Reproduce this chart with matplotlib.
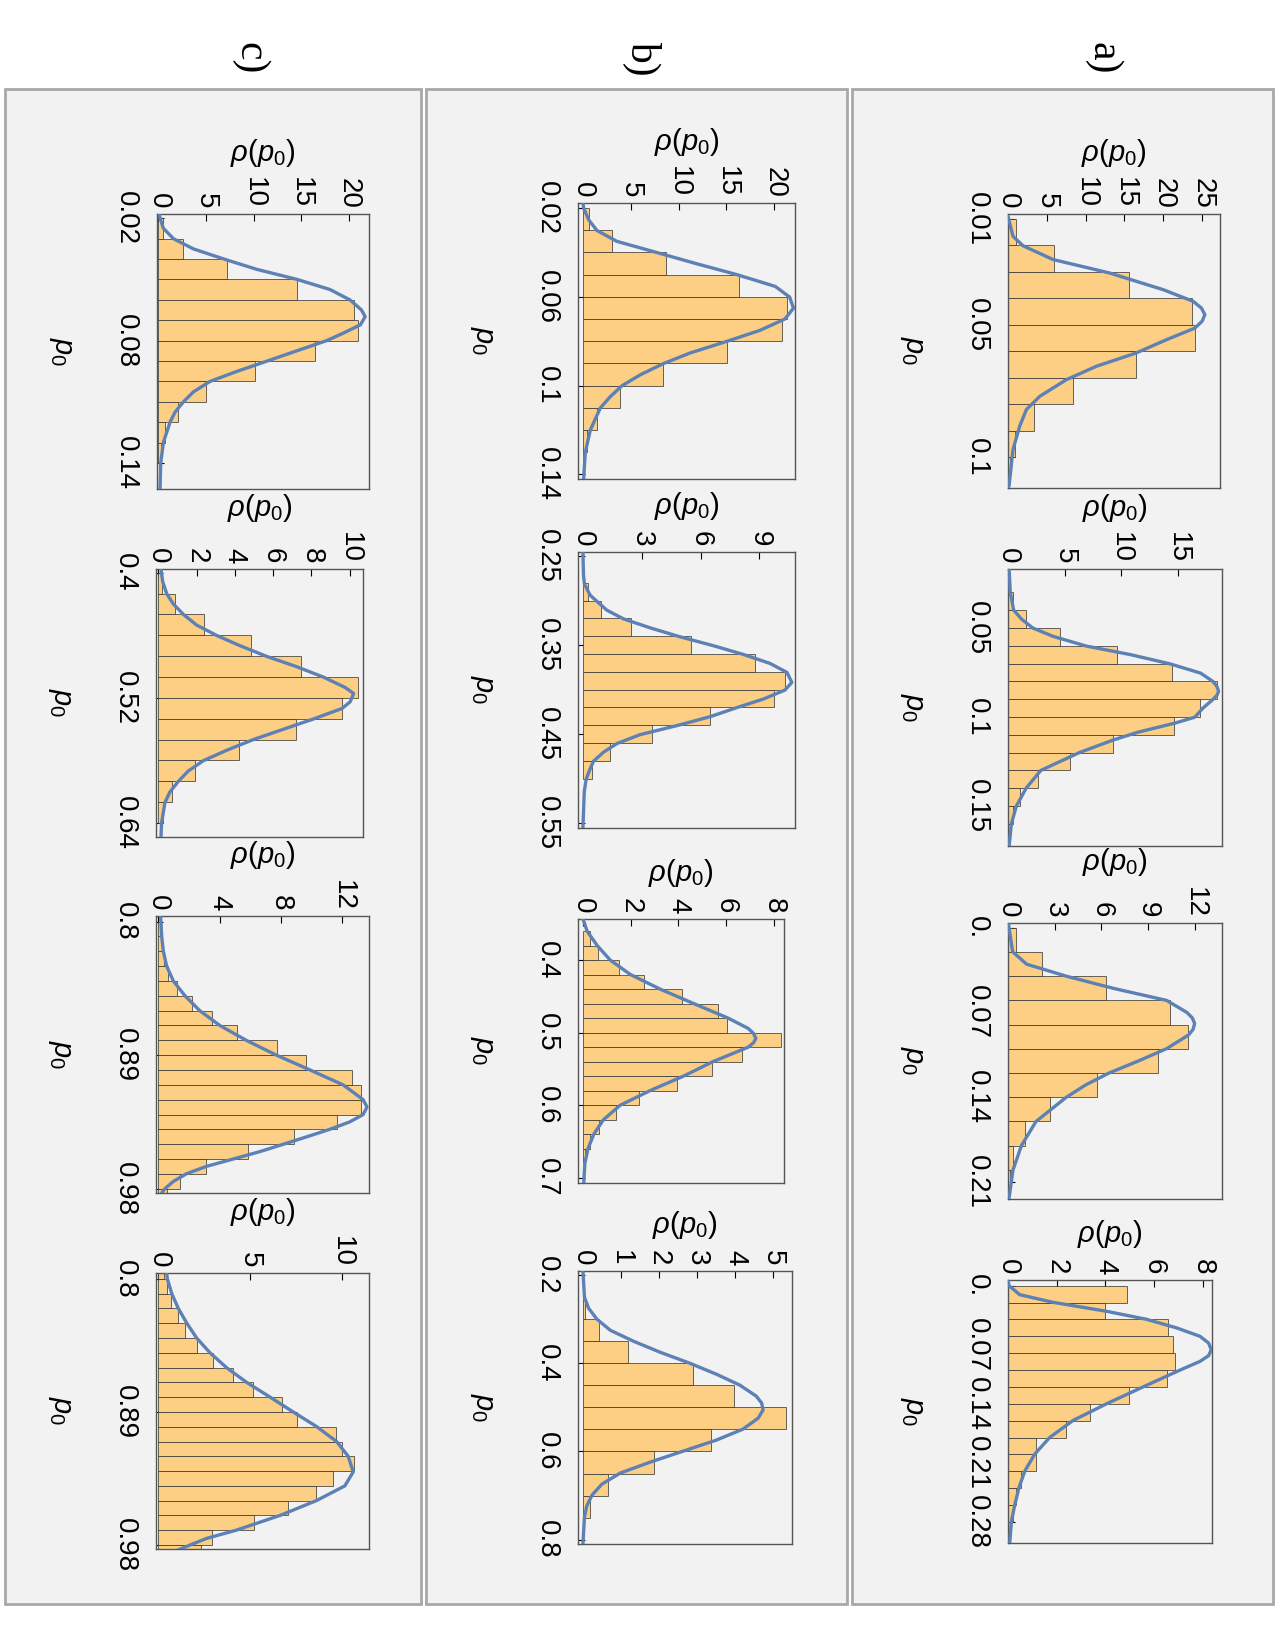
import numpy as np
import matplotlib
matplotlib.use('Agg')
import matplotlib.pyplot as plt
from matplotlib.patches import Rectangle

plt.rcParams['font.family'] = ['Liberation Sans', 'DejaVu Sans']
plt.rcParams['mathtext.fontset'] = 'custom'
plt.rcParams['mathtext.it'] = 'Liberation Sans:italic'
plt.rcParams['mathtext.rm'] = 'Liberation Sans'

# ---------------- data ----------------
# each panel: histogram (first bin edge, bin width, densities) and fitted curve (p0, rho)

# row a)
a1_start, a1_width = 0.01, 0.01
a1_hist = [1.0, 5.9, 15.6, 23.7, 24.1, 16.5, 8.4, 3.3, 0.9, 0.2]
a1_curve_p = [0.0091, 0.0166, 0.0202, 0.0254, 0.0305, 0.0368, 0.0412, 0.0437, 0.0462, 0.0487,
              0.0513, 0.0557, 0.0607, 0.0657, 0.0708, 0.0771, 0.0821, 0.0884, 0.0972, 0.1111]
a1_curve_rho = [0.0, 0.64, 1.93, 5.8, 13.1, 20.0, 23.85, 24.9, 25.35, 25.0,
                24.06, 20.4, 16.5, 11.4, 7.5, 4.08, 2.36, 1.5, 0.64, 0.13]
a1_rticks = [0, 5, 10, 15, 20, 25]
a1_pticks = [0.01, 0.05, 0.1]
a1_plabels = ['0.01', '0.05', '0.1']

a2_start, a2_width = 0.03, 0.01
a2_hist = [0.44, 1.56, 4.63, 9.6, 14.5, 18.5, 17.0, 14.7, 9.3, 5.5, 2.65, 1.03, 0.44, 0.2]
a2_curve_p = [0.0168, 0.0299, 0.0399, 0.045, 0.05, 0.0547, 0.0601, 0.0649, 0.0701, 0.0753, 0.08,
              0.0828, 0.0856, 0.0878, 0.0901, 0.0951, 0.1001, 0.1035, 0.1085, 0.1129, 0.12,
              0.13, 0.14, 0.15, 0.16, 0.1725]
a2_curve_rho = [0.1, 0.2, 0.5, 1.2, 2.2, 4.0, 6.9, 10.8, 14.3, 17.0, 18.1,
                18.45, 18.6, 18.45, 18.1, 17.2, 16.5, 14.7, 11.5, 9.3, 6.3,
                2.9, 1.6, 0.74, 0.3, 0.1]
a2_rticks = [0, 5, 10, 15]
a2_pticks = [0.05, 0.1, 0.15]
a2_plabels = ['0.05', '0.1', '0.15']

a3_start, a3_width = 0.0, 0.02
a3_hist = [0.49, 2.19, 6.32, 10.44, 11.57, 9.64, 5.74, 2.72, 1.09, 0.32, 0.1]
a3_curve_p = [-0.0038, 0.0, 0.02, 0.0302, 0.0401, 0.0502, 0.0601, 0.07, 0.0745, 0.0791, 0.084,
              0.0887, 0.0999, 0.11, 0.12, 0.1298, 0.14, 0.16, 0.18, 0.2001, 0.224]
a3_curve_rho = [0.04, 0.06, 0.3, 1.2, 3.75, 6.8, 10.2, 11.5, 11.85, 12.0, 11.9,
                11.6, 10.2, 8.4, 6.5, 5.0, 3.75, 1.8, 0.86, 0.32, 0.06]
a3_rticks = [0, 3, 6, 9, 12]
a3_pticks = [0.0, 0.07, 0.14, 0.21]
a3_plabels = ['0.', '0.07', '0.14', '0.21']

a4_start, a4_width = 0.0, 0.02
a4_hist = [4.88, 4.0, 6.56, 6.78, 6.86, 6.53, 4.99, 3.38, 2.37, 1.17, 1.14, 0.54, 0.33, 0.19, 0.1]
a4_curve_p = [-0.0067, 0.0, 0.0107, 0.0198, 0.0304, 0.0399, 0.0502, 0.0601, 0.068, 0.0759, 0.083,
              0.0897, 0.1, 0.1198, 0.1399, 0.1597, 0.1798, 0.1996, 0.2198, 0.2395, 0.2597,
              0.2794, 0.3051]
a4_curve_rho = [0.0, 0.04, 0.48, 1.86, 4.06, 5.7, 6.95, 7.9, 8.25, 8.36, 8.25,
                7.9, 7.08, 5.57, 4.06, 2.68, 1.72, 1.1, 0.69, 0.45, 0.28,
                0.14, 0.07]
a4_rticks = [0, 2, 4, 6, 8]
a4_pticks = [0.0, 0.07, 0.14, 0.21, 0.28]
a4_plabels = ['0.', '0.07', '0.14', '0.21', '0.28']

# row b)
b1_start, b1_width = 0.02, 0.01
b1_hist = [0.59, 3.03, 8.66, 16.35, 21.36, 20.83, 15.03, 8.35, 3.83, 1.46, 0.42, 0.14]
b1_curve_p = [0.0177, 0.02, 0.0253, 0.0301, 0.035, 0.04, 0.0451, 0.05, 0.0553, 0.0601, 0.0651,
              0.07, 0.0751, 0.0801, 0.0853, 0.0901, 0.0951, 0.1001, 0.105, 0.1101, 0.12,
              0.1301, 0.1421]
b1_curve_rho = [0.0, 0.07, 0.6, 1.46, 3.55, 7.7, 11.9, 16.1, 20.1, 21.6, 22.0,
                21.1, 18.5, 15.0, 11.2, 8.4, 6.0, 4.07, 2.85, 1.81, 0.77,
                0.24, 0.07]
b1_rticks = [0, 5, 10, 15, 20]
b1_pticks = [0.02, 0.06, 0.1, 0.14]
b1_plabels = ['0.02', '0.06', '0.1', '0.14']

b2_start, b2_width = 0.28, 0.02
b2_hist = [0.24, 0.92, 2.46, 5.52, 8.79, 10.3, 9.76, 6.47, 3.51, 1.39, 0.46]
b2_curve_p = [0.2453, 0.2715, 0.2816, 0.2939, 0.3007, 0.3107, 0.3205, 0.3306, 0.3407, 0.3507,
              0.3605, 0.3706, 0.3807, 0.3919, 0.4005, 0.4106, 0.4203, 0.4304, 0.4405, 0.4506,
              0.4607, 0.4704, 0.4805, 0.4906, 0.5003, 0.5145, 0.5556]
b2_curve_rho = [0.0, 0.03, 0.08, 0.37, 0.71, 1.22, 2.07, 3.43, 4.96, 6.66,
                8.18, 9.54, 10.4, 10.65, 10.3, 9.2, 7.84, 6.49, 4.79, 2.92,
                1.73, 1.05, 0.54, 0.34, 0.17, 0.07, 0.0]
b2_rticks = [0, 3, 6, 9]
b2_pticks = [0.25, 0.35, 0.45, 0.55]
b2_plabels = ['0.25', '0.35', '0.45', '0.55']

b3_start, b3_width = 0.36, 0.02
b3_hist = [0.28, 0.63, 1.49, 2.54, 4.14, 5.67, 6.02, 8.32, 6.65, 5.39, 3.93, 2.33, 1.39, 0.66,
           0.28, 0.1]
b3_curve_p = [0.3434, 0.36, 0.3798, 0.4, 0.4198, 0.44, 0.4598, 0.4801, 0.4943, 0.5012, 0.5081,
              0.5141, 0.5201, 0.5399, 0.5601, 0.5799, 0.6002, 0.62, 0.6402, 0.66, 0.6798, 0.7074]
b3_curve_rho = [0.0, 0.17, 0.59, 1.14, 1.98, 3.23, 4.63, 6.09, 6.93, 7.15, 7.25,
                7.15, 6.93, 5.46, 4.21, 2.82, 1.56, 0.86, 0.45, 0.21, 0.08, 0.03]
b3_rticks = [0, 2, 4, 6, 8]
b3_pticks = [0.4, 0.5, 0.6, 0.7]
b3_plabels = ['0.4', '0.5', '0.6', '0.7']

b4_start, b4_width = 0.25, 0.05
b4_hist = [0.06, 0.41, 1.18, 2.9, 3.98, 5.35, 3.37, 1.87, 0.65, 0.19]
b4_curve_p = [0.191, 0.2506, 0.2755, 0.3004, 0.3253, 0.3502, 0.3751, 0.4, 0.4249, 0.4498, 0.4747,
              0.49, 0.5057, 0.5245, 0.5494, 0.5743, 0.5992, 0.6242, 0.6491, 0.674, 0.6989,
              0.7238, 0.7487, 0.8098]
b4_curve_rho = [0.0, 0.04, 0.15, 0.37, 0.72, 1.33, 2.03, 2.81, 3.51, 4.13, 4.56,
                4.7, 4.74, 4.61, 4.21, 3.51, 2.64, 1.77, 0.98, 0.5, 0.24,
                0.1, 0.04, 0.0]
b4_rticks = [0, 1, 2, 3, 4, 5]
b4_pticks = [0.2, 0.4, 0.6, 0.8]
b4_plabels = ['0.2', '0.4', '0.6', '0.8']

# row c)
c1_start, c1_width = 0.02, 0.01
c1_hist = [0.52, 2.55, 7.24, 14.58, 20.52, 20.98, 16.43, 10.14, 5.0, 2.03, 0.7, 0.31]
c1_curve_p = [0.0179, 0.02, 0.0249, 0.03, 0.035, 0.0399, 0.045, 0.0499, 0.0549, 0.06, 0.0649,
              0.0682, 0.0722, 0.0763, 0.0799, 0.085, 0.09, 0.0951, 0.1, 0.1051, 0.11, 0.115,
              0.1199, 0.1299, 0.14, 0.1527]
c1_curve_rho = [0.1, 0.17, 0.52, 1.57, 3.67, 6.82, 10.3, 14.5, 18.0, 20.1, 21.3,
                21.7, 21.2, 19.4, 17.7, 14.5, 11.4, 8.2, 5.4, 3.67, 2.62, 1.75,
                1.22, 0.52, 0.24, 0.17]
c1_rticks = [0, 5, 10, 15, 20]
c1_pticks = [0.02, 0.08, 0.14]
c1_plabels = ['0.02', '0.08', '0.14']

c2_start, c2_width = 0.40, 0.02
c2_hist = [0.17, 0.89, 2.37, 4.85, 7.47, 10.42, 9.58, 7.21, 4.24, 1.94, 0.7, 0.23]
c2_curve_p = [0.3965, 0.4086, 0.4202, 0.4301, 0.44, 0.4502, 0.4602, 0.4701, 0.4803, 0.4902,
              0.5002, 0.5101, 0.5158, 0.5238, 0.5302, 0.5402, 0.5501, 0.56, 0.5702, 0.5802,
              0.5901, 0.6, 0.6102, 0.6202, 0.64, 0.6534]
c2_curve_rho = [0.14, 0.23, 0.44, 0.79, 1.31, 2.0, 3.05, 4.28, 5.67, 7.24,
                8.64, 9.77, 10.21, 10.03, 9.6, 8.12, 6.54, 4.97, 3.58, 2.36,
                1.57, 1.05, 0.61, 0.35, 0.17, 0.14]
c2_rticks = [0, 2, 4, 6, 8, 10]
c2_pticks = [0.4, 0.52, 0.64]
c2_plabels = ['0.4', '0.52', '0.64']

c3_start, c3_width = 0.80, 0.01
c3_hist = [0.1, 0.22, 0.39, 0.65, 1.24, 2.17, 3.47, 5.14, 7.74, 9.61, 12.65, 13.19, 13.19, 11.65,
           8.85, 5.86, 3.1, 1.41, 0.54]
c3_curve_p = [0.7962, 0.8099, 0.82, 0.8299, 0.84, 0.85, 0.8601, 0.87, 0.8801, 0.89, 0.8999,
              0.91, 0.9199, 0.9249, 0.9301, 0.935, 0.94, 0.9451, 0.9501, 0.955, 0.96, 0.9649,
              0.9699, 0.9751, 0.98, 0.9829]
c3_curve_rho = [0.15, 0.22, 0.33, 0.54, 0.98, 1.74, 2.71, 4.01, 5.75, 7.7, 9.87,
                12.04, 13.34, 13.6, 13.34, 12.47, 11.17, 9.65, 8.13, 6.62, 4.88, 3.15,
                1.84, 0.98, 0.43, 0.22]
c3_rticks = [0, 4, 8, 12]
c3_pticks = [0.8, 0.89, 0.98]
c3_plabels = ['0.8', '0.89', '0.98']

c4_start, c4_width = 0.79, 0.01
c4_hist = [0.3, 0.45, 0.69, 1.05, 1.45, 2.09, 3.0, 4.09, 5.15, 6.73, 7.55, 9.69, 10.0, 10.67,
           9.55, 8.58, 7.09, 5.22, 2.91, 2.31]
c4_curve_p = [0.7962, 0.8, 0.8099, 0.82, 0.8299, 0.84, 0.85, 0.8601, 0.87, 0.8799, 0.89, 0.8999,
              0.91, 0.9199, 0.9305, 0.94, 0.9499, 0.96, 0.9699, 0.9755, 0.98, 0.9856]
c4_curve_rho = [0.45, 0.49, 0.73, 1.09, 1.55, 2.09, 2.82, 3.73, 4.82, 6.09, 7.36, 8.64,
                9.73, 10.36, 10.64, 10.18, 8.64, 6.64, 4.27, 2.64, 1.73, 0.64]
c4_rticks = [0, 5, 10]
c4_pticks = [0.8, 0.89, 0.98]
c4_plabels = ['0.8', '0.89', '0.98']

row_labels = ['a)', 'b)', 'c)']

# ---------------- layout (pixels of the 1275x1650 page) ----------------
W, H = 1275, 1650
BAR = '#FDCF84'
LINE = '#5E81B5'

# axes frame: x0, x1, y0, y1 and plot ranges rho (left, right), p0 (top, bottom)
layout = {
    'a1': ((1008, 1220, 214, 488), (0, 27.3), (0.0082, 0.1117)),
    'a2': ((1008, 1222, 569, 846), (0, 18.9), (0.0168, 0.1725)),
    'a3': ((1008, 1222, 923, 1199), (0, 13.76), (-0.0038, 0.224)),
    'a4': ((1008, 1212, 1280, 1543), (0, 8.39), (-0.0067, 0.305)),
    'b1': ((578, 795, 203, 479), (-0.52, 22.16), (0.0177, 0.1421)),
    'b2': ((578, 795, 552, 828), (-0.25, 10.81), (0.2453, 0.5556)),
    'b3': ((578, 784, 919, 1183), (-0.21, 8.43), (0.3434, 0.7074)),
    'b4': ((578, 792, 1271, 1544), (-0.13, 5.5), (0.191, 0.8098)),
    'c1': ((157, 369, 214, 489), (-0.15, 22.1), (0.0179, 0.1527)),
    'c2': ((156, 363, 569, 837), (-0.12, 10.7), (0.3965, 0.6534)),
    'c3': ((156, 369, 916, 1193), (-0.15, 13.73), (0.7962, 0.9829)),
    'c4': ((156, 369, 1273, 1549), (-0.13, 11.5), (0.796, 0.9827)),
}
# outer grey boxes of the three rows (x0, x1) and their label centre x
boxes = [(852, 1273, 1103), (426, 847, 642), (5, 421, 250)]
box_y0, box_y1 = 89, 1604


def fig_rect(x0, x1, y0, y1):
    return [x0 / W, 1 - y1 / H, (x1 - x0) / W, (y1 - y0) / H]


# 画一个旋转过的直方图面板：p0 竖直向下，rho 水平向右
def draw_panel(ax, start, width, hist, cp, crho, rticks, pticks, plabels, rlim, plim):
    edges = start + width * np.arange(len(hist))
    ax.barh(edges, hist, height=width, align='edge', color=BAR,
            edgecolor=(0.2, 0.2, 0.2, 0.75), linewidth=0.7, zorder=2)
    ax.plot(crho, cp, color=LINE, lw=2.4, zorder=3, solid_capstyle='round',
            solid_joinstyle='round')
    ax.set_xlim(rlim)
    ax.set_ylim(plim[1], plim[0])
    ax.set_facecolor('none')

    ax.xaxis.tick_top()
    ax.xaxis.set_label_position('top')
    ax.set_xticks(rticks)
    ax.set_xticklabels([str(t) for t in rticks], rotation=-90)
    ax.set_yticks(pticks)
    ax.set_yticklabels(plabels, rotation=-90, va='center')
    ax.tick_params(axis='x', direction='in', length=5, width=0.8, labelsize=20, pad=4)
    ax.tick_params(axis='y', direction='in', length=5, width=0.8, labelsize=20, pad=13)

    ax.set_xlabel(r'$\rho(p_0)$', fontsize=21, labelpad=12)
    ax.set_ylabel(r'$p_0$', fontsize=21, rotation=-90, va='top', labelpad=27)
    for s in ax.spines.values():
        s.set_color('#555555')
        s.set_linewidth(1.0)


fig = plt.figure(figsize=(W / 100, H / 100), dpi=100)

for (x0, x1, xc), lab in zip(boxes, row_labels):
    fig.add_artist(Rectangle((x0 / W, 1 - box_y1 / H), (x1 - x0) / W, (box_y1 - box_y0) / H,
                             transform=fig.transFigure, facecolor='#F2F2F2',
                             edgecolor='#A8A8A8', linewidth=2, zorder=-10))
    fig.text(xc / W, 1 - 58 / H, lab, rotation=-90, ha='center', va='center',
             fontsize=30, family=['Liberation Serif', 'DejaVu Serif'])

panels = {
    'a1': (a1_start, a1_width, a1_hist, a1_curve_p, a1_curve_rho, a1_rticks, a1_pticks, a1_plabels),
    'a2': (a2_start, a2_width, a2_hist, a2_curve_p, a2_curve_rho, a2_rticks, a2_pticks, a2_plabels),
    'a3': (a3_start, a3_width, a3_hist, a3_curve_p, a3_curve_rho, a3_rticks, a3_pticks, a3_plabels),
    'a4': (a4_start, a4_width, a4_hist, a4_curve_p, a4_curve_rho, a4_rticks, a4_pticks, a4_plabels),
    'b1': (b1_start, b1_width, b1_hist, b1_curve_p, b1_curve_rho, b1_rticks, b1_pticks, b1_plabels),
    'b2': (b2_start, b2_width, b2_hist, b2_curve_p, b2_curve_rho, b2_rticks, b2_pticks, b2_plabels),
    'b3': (b3_start, b3_width, b3_hist, b3_curve_p, b3_curve_rho, b3_rticks, b3_pticks, b3_plabels),
    'b4': (b4_start, b4_width, b4_hist, b4_curve_p, b4_curve_rho, b4_rticks, b4_pticks, b4_plabels),
    'c1': (c1_start, c1_width, c1_hist, c1_curve_p, c1_curve_rho, c1_rticks, c1_pticks, c1_plabels),
    'c2': (c2_start, c2_width, c2_hist, c2_curve_p, c2_curve_rho, c2_rticks, c2_pticks, c2_plabels),
    'c3': (c3_start, c3_width, c3_hist, c3_curve_p, c3_curve_rho, c3_rticks, c3_pticks, c3_plabels),
    'c4': (c4_start, c4_width, c4_hist, c4_curve_p, c4_curve_rho, c4_rticks, c4_pticks, c4_plabels),
}

for key, data in panels.items():
    frame, rlim, plim = layout[key]
    ax = fig.add_axes(fig_rect(*frame))
    draw_panel(ax, *data, rlim, plim)

fig.savefig('out.png', dpi=100, facecolor='white')
